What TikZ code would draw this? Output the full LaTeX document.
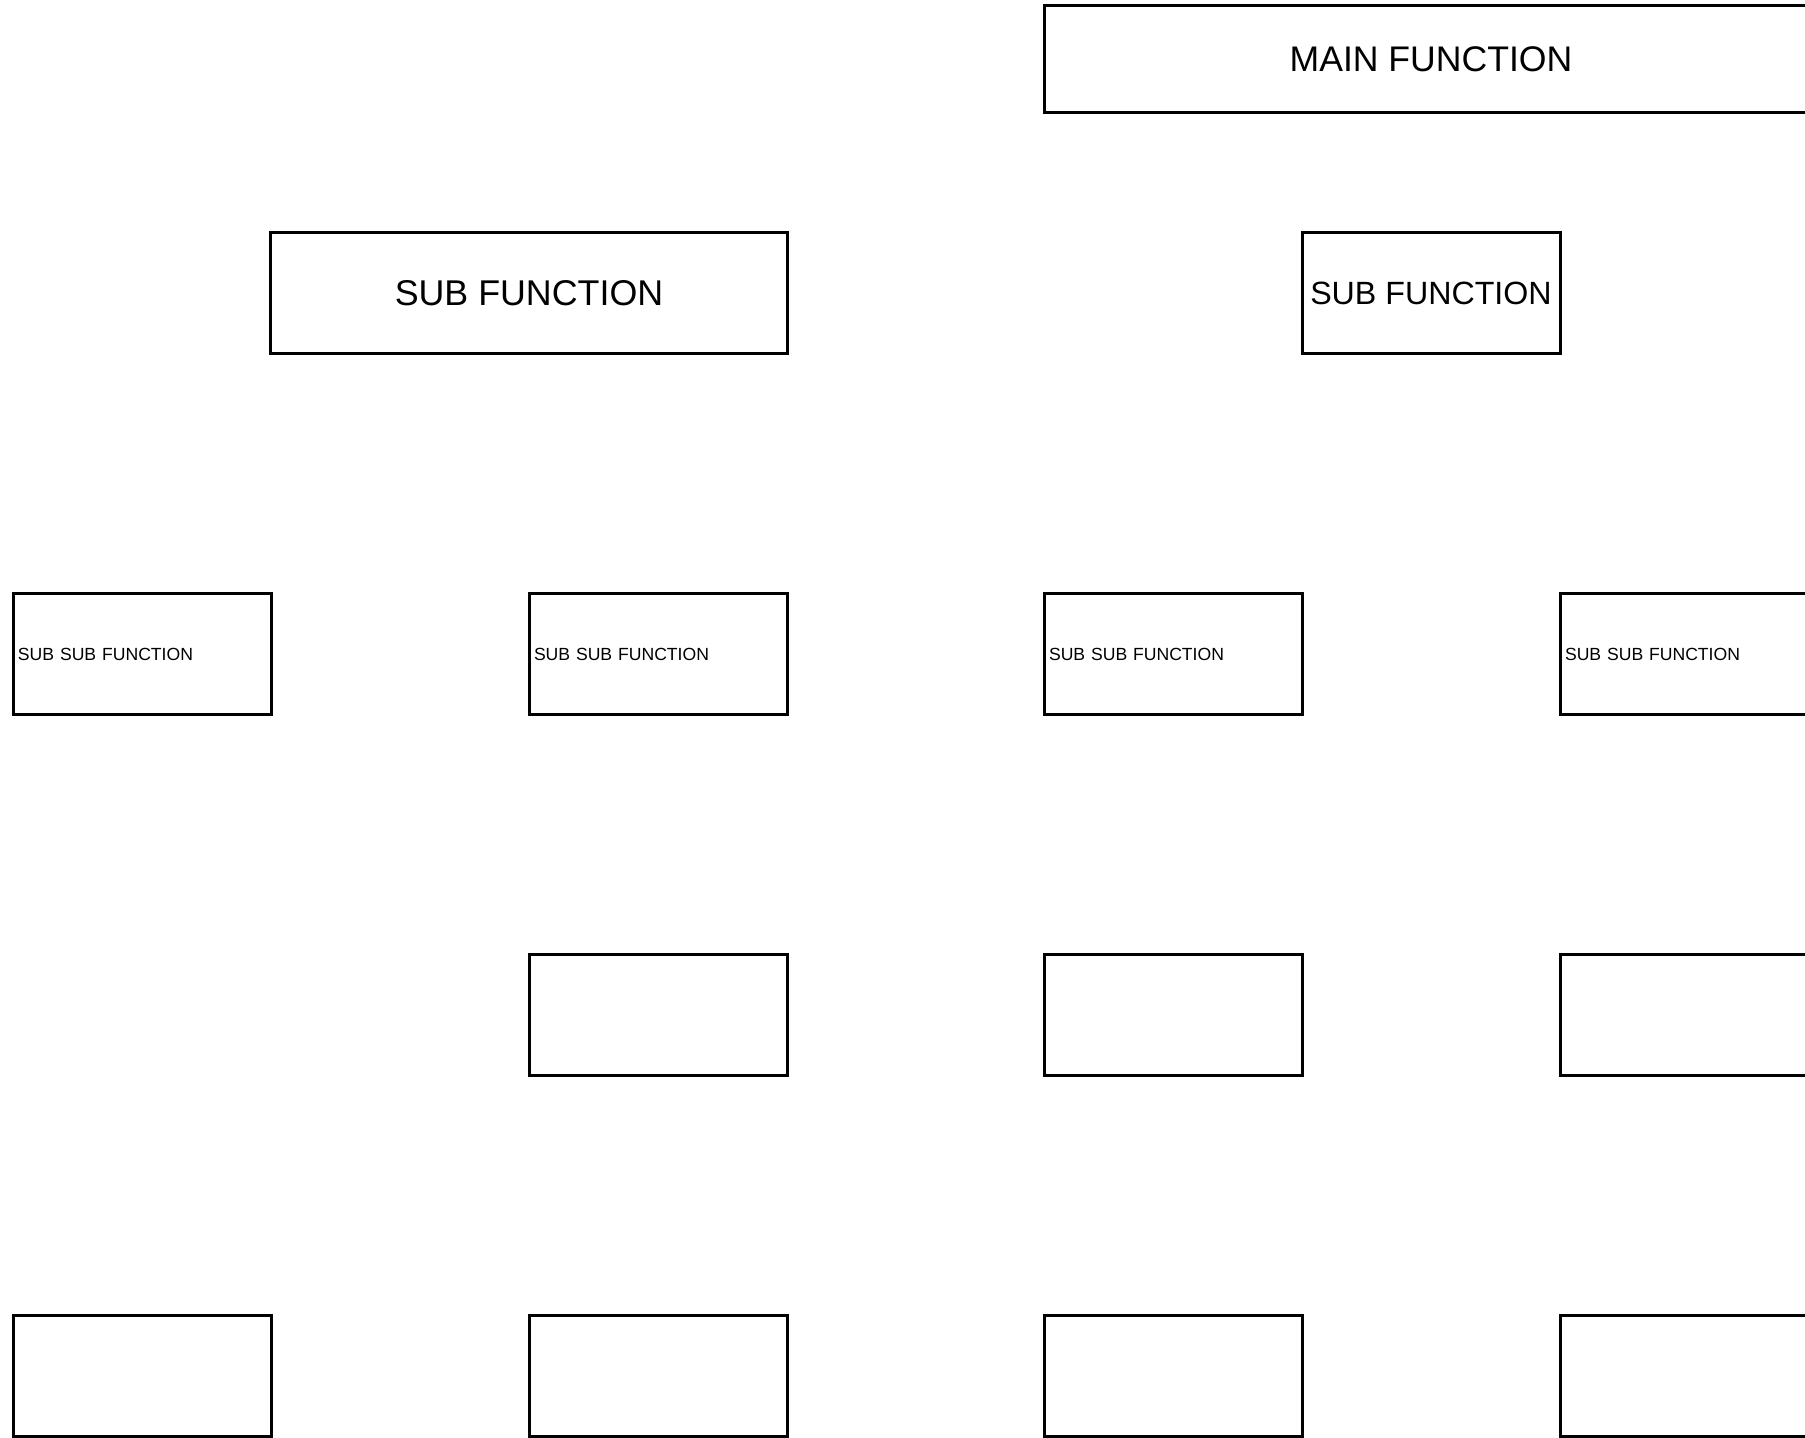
\documentclass[tikz,border=0pt]{standalone}
\usepackage{fontspec}
\setmainfont{Liberation Sans}
\usetikzlibrary{positioning}
\tikzset{
  funcbox/.style={draw=black, line width=1.5pt, minimum width=129pt, minimum height=60.5pt, inner sep=2.5pt},
  mainbox/.style={funcbox, minimum width=387pt, minimum height=53.5pt, font=\fontsize{17.8}{20}\selectfont},
  subbox/.style={funcbox, font=\fontsize{17.9}{20}\selectfont},
  leafbox/.style={funcbox, text width=124pt, align=left, font=\fontsize{8.8}{11}\selectfont}
}
\begin{document}
\begin{tikzpicture}[x=0.5pt,y=-0.5pt]
  \useasboundingbox (0,0) rectangle (1805,1438);
  \node[mainbox] (main) at (1431,59) {MAIN FUNCTION};
  \node[subbox, minimum width=258.5pt] (subL) at (529,293) {SUB FUNCTION};
  \node[subbox, font=\fontsize{16.1}{19}\selectfont] (subR) at (1431,293) {SUB FUNCTION};
  % third row: named leaves
  \foreach \name/\x in {a/142, b/658, c/1173, d/1689}
    \node[leafbox] (leaf\name) at (\x,654.5) {SUB SUB FUNCTION};
  % empty boxes below
  \foreach \name/\x in {b/658, c/1173, d/1689}
    \node[funcbox] (mid\name) at (\x,1015) {};
  \foreach \name/\x in {a/142, b/658, c/1173, d/1689}
    \node[funcbox] (low\name) at (\x,1376) {};
\end{tikzpicture}
\end{document}
